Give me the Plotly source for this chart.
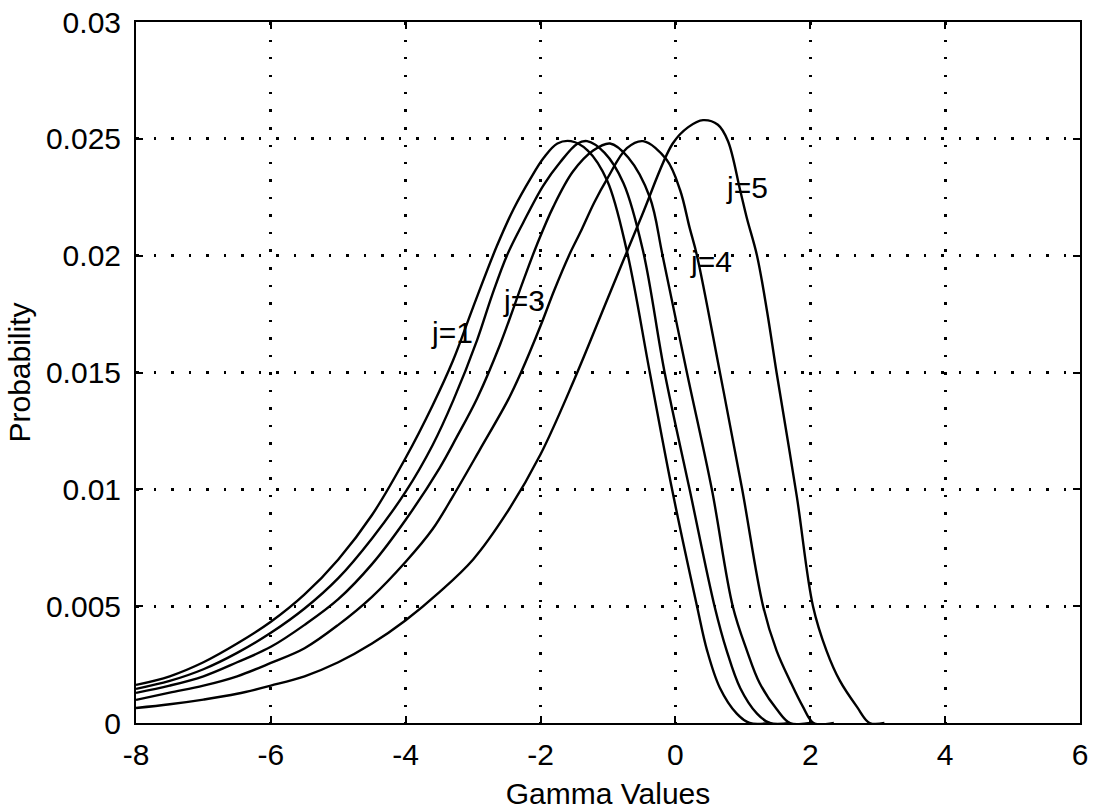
import plotly.graph_objects as go

# Probability curves against gamma value, one per j
gamma_j1 = [-8, -7.5, -7, -6.5, -6, -5.5, -5, -4.5, -4, -3.6, -3.3, -3.0, -2.65, -2.4, -2.15,
            -1.95, -1.75, -1.55, -1.3, -1.01, -0.72, -0.38, -0.05, 0.32, 0.47, 0.66, 0.91,
            1.1, 1.4]
prob_j1 = [0.00163, 0.0020, 0.0026, 0.0034, 0.00433, 0.0055, 0.0070, 0.0089, 0.01135, 0.0136,
           0.0155, 0.0178, 0.0204, 0.0220, 0.0233, 0.0242, 0.0248, 0.0249, 0.0245, 0.0232,
           0.0202, 0.0150, 0.0100, 0.0050, 0.0031, 0.0015, 0.0004, 0.0, 0.0]

gamma_j2 = [-8, -7.5, -7, -6.5, -6, -5.5, -5, -4.5, -4, -3.6, -3.29, -2.94, -2.72, -2.5,
            -2.26, -1.96, -1.71, -1.45, -1.31, -1.05, -0.77, -0.48, -0.16, 0.21, 0.58, 0.76,
            0.96, 1.21, 1.4, 1.7]
prob_j2 = [0.00146, 0.0018, 0.0023, 0.0030, 0.00386, 0.0049, 0.0062, 0.0079, 0.0099, 0.0119,
           0.01384, 0.0164, 0.0183, 0.0200, 0.0214, 0.0230, 0.0240, 0.0248, 0.0249, 0.0244,
           0.0231, 0.0202, 0.0150, 0.0100, 0.0050, 0.0031, 0.0015, 0.0004, 0.0, 0.0]

gamma_j3 = [-8, -7.5, -7, -6.5, -6, -5.5, -5, -4.5, -4, -3.5, -3.25, -2.94, -2.6, -2.26,
            -2.05, -1.81, -1.52, -1.22, -0.97, -0.7, -0.38, -0.19, 0.17, 0.54, 0.85, 1.06,
            1.25, 1.5, 1.7, 2.0]
prob_j3 = [0.00129, 0.0016, 0.0020, 0.0026, 0.00326, 0.0042, 0.0053, 0.0068, 0.0087, 0.0109,
           0.0122, 0.0139, 0.0162, 0.0189, 0.0205, 0.0221, 0.0236, 0.0245, 0.0248, 0.0242,
           0.0225, 0.0200, 0.0150, 0.0100, 0.0050, 0.0031, 0.0017, 0.0006, 0.0, 0.0]

gamma_j4 = [-8, -7.5, -7, -6.5, -6, -5.5, -5, -4.5, -4, -3.6, -3.3, -2.9, -2.48, -2.29, -2.0,
            -1.8, -1.58, -1.41, -1.2, -1.01, -0.72, -0.48, -0.13, 0.07, 0.21, 0.32, 0.66,
            0.99, 1.3, 1.5, 1.7, 1.89, 2.05, 2.35]
prob_j4 = [0.00099, 0.0013, 0.0016, 0.0020, 0.00257, 0.0032, 0.0042, 0.0054, 0.0069, 0.0083,
           0.0097, 0.0117, 0.01384, 0.0150, 0.0170, 0.0185, 0.0200, 0.0210, 0.0223, 0.0233,
           0.0246, 0.0249, 0.0241, 0.0228, 0.0212, 0.0200, 0.0150, 0.0100, 0.0050, 0.0031,
           0.0018, 0.0007, 0.0, 0.0]

gamma_j5 = [-8, -7.5, -7, -6.5, -6, -5.5, -5, -4.5, -4, -3.5, -3.0, -2.5, -2.0, -1.5, -1.0,
            -0.5, -0.04, 0.19, 0.41, 0.63, 0.78, 0.96, 1.06, 1.21, 1.36, 1.5, 1.8, 2.04,
            2.24, 2.44, 2.69, 2.88, 3.1]
prob_j5 = [0.00064, 0.0008, 0.0010, 0.00125, 0.0016, 0.0020, 0.0026, 0.0034, 0.0044, 0.0056,
           0.0070, 0.0090, 0.0115, 0.0147, 0.0182, 0.0217, 0.0248, 0.0255, 0.0258, 0.0256,
           0.0249, 0.0228, 0.0216, 0.0200, 0.0176, 0.0150, 0.0097, 0.0050, 0.0031, 0.0018,
           0.0007, 0.0, 0.0]

x_tick_vals = [-8, -6, -4, -2, 0, 2, 4, 6]
x_tick_text = ["-8", "-6", "-4", "-2", "0", "2", "4", "6"]
y_tick_vals = [0, 0.005, 0.01, 0.015, 0.02, 0.025, 0.03]
y_tick_text = ["0", "0.005", "0.01", "0.015", "0.02", "0.025", "0.03"]

curve_labels = ["j=1", "j=3", "j=4", "j=5"]

FONT = "Liberation Sans, Arial, Helvetica, sans-serif"
FS = 30

fig = go.Figure()
for gx, py in [(gamma_j1, prob_j1), (gamma_j2, prob_j2), (gamma_j3, prob_j3),
               (gamma_j4, prob_j4), (gamma_j5, prob_j5)]:
    fig.add_trace(go.Scatter(
        x=gx, y=py, mode="lines",
        line=dict(color="black", width=2.4, shape="spline", smoothing=1.0),
        showlegend=False, hoverinfo="skip"))

# curve labels placed next to their curves
label_pos = [(-3.31, 0.0167), (-2.24, 0.0181), (0.53, 0.01975), (1.06, 0.0229)]
for text, (lx, ly) in zip(curve_labels, label_pos):
    fig.add_annotation(x=lx, y=ly, text=text, showarrow=False,
                       font=dict(family=FONT, size=FS, color="black"),
                       xanchor="center", yanchor="middle")

axis_common = dict(
    showline=True, linecolor="black", linewidth=2, mirror="ticks",
    ticks="inside", ticklen=7, tickwidth=2, tickcolor="black",
    showgrid=True, gridcolor="black", gridwidth=2.5, griddash="2.5px,15px",
    zeroline=False,
    tickfont=dict(family=FONT, size=FS, color="black"),
)

fig.update_xaxes(range=[-8, 6], tickvals=x_tick_vals, ticktext=x_tick_text,
                 ticklabelstandoff=4,
                 title=dict(text="Gamma Values", font=dict(family=FONT, size=FS, color="black"),
                            standoff=14),
                 **axis_common)
fig.update_yaxes(range=[0, 0.03], tickvals=y_tick_vals, ticktext=y_tick_text,
                 ticklabelstandoff=7,
                 title=dict(text="Probability", font=dict(family=FONT, size=FS, color="black"),
                            standoff=6),
                 **axis_common)

fig.update_layout(
    width=1098, height=810,
    margin=dict(l=135.5, r=17.5, t=22, b=87, autoexpand=False),
    paper_bgcolor="white", plot_bgcolor="white",
)

fig.write_html("out.html")
